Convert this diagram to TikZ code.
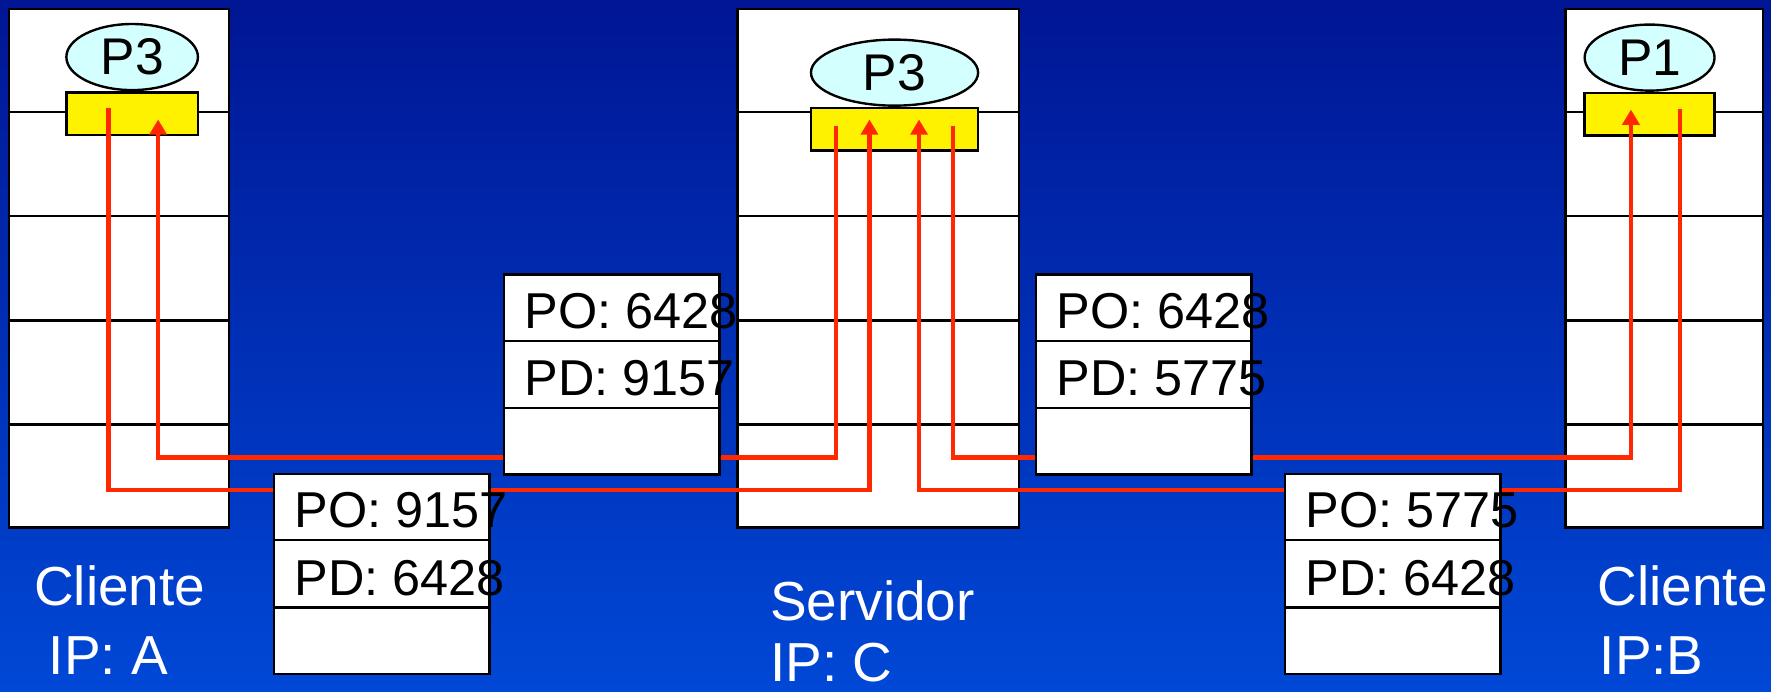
\documentclass[tikz,border=0pt]{standalone}
\usepackage{fontspec}
\setmainfont{Liberation Sans}
\usepackage{tikz}
\usetikzlibrary{calc}
\usetikzlibrary{arrows.meta}
\usetikzlibrary{positioning, shapes.geometric}

\definecolor{bgtop}{RGB}{0,22,148}
\definecolor{bgbot}{RGB}{0,72,214}
\definecolor{flowred}{RGB}{255,40,0}
\definecolor{procfill}{RGB}{212,255,255}

\tikzset{
  host/.style={draw,fill=white,line width=1.2pt,minimum height=9.18cm,inner sep=0pt},
  proc/.style={ellipse,draw,fill=procfill,line width=1.2pt,minimum height=1.17cm,inner sep=0pt,font=\fontsize{26}{30}\selectfont},
  sock/.style={draw,fill=yellow,line width=1.2pt,minimum height=0.75cm,inner sep=0pt},
  pkt/.style={draw,fill=white,line width=1.2pt,minimum width=3.82cm,minimum height=3.54cm,inner sep=0pt},
  pkttxt/.style={anchor=west,inner sep=0pt,xshift=0.38cm,yshift=-0.07cm,font=\fontsize{25.4}{30}\selectfont},
  lbl/.style={anchor=west,inner sep=0pt,text=white,font=\fontsize{27.7}{32}\selectfont},
  flow/.style={flowred,line width=2.1pt},
  tip/.style={-{Triangle[length=0.27cm,width=0.3cm]}}
}

\begin{document}
\begin{tikzpicture}[x=0.02cm,y=-0.02cm]
  \fill[top color=bgtop,bottom color=bgbot] (0,0) rectangle (1568,612);
  \useasboundingbox (0,0) rectangle (1568,612);

  % hosts
  \node[host,minimum width=3.9cm]  (hA) at (105.5,237.5) {};
  \node[host,minimum width=4.98cm] (hC) at (777.5,237.5) {};
  \node[host,minimum width=3.5cm]  (hB) at (1473.5,237.5) {};
  \foreach \h in {hA,hC,hB}
    \foreach \k in {1,2,3,4}
      \draw[line width=1.2pt] ($(\h.north west)!\k/5!(\h.south west)$) -- ($(\h.north east)!\k/5!(\h.south east)$);

  \node[proc,minimum width=2.33cm] (pA) at (117,50.5)   {P3};
  \node[proc,minimum width=2.96cm] (pC) at (792,64.3)   {P3};
  \node[proc,minimum width=2.3cm]  (pB) at (1460.5,51)  {P1};
  \node[sock,minimum width=2.33cm,below=0pt of pA] (sA) {};
  \node[sock,minimum width=2.96cm,below=0pt of pC] (sC) {};
  \node[sock,minimum width=2.3cm,below=0pt of pB]  (sB) {};

  % ports
  \coordinate (aOut) at (96,96);
  \coordinate (aIn)  at (140,105.8);
  \coordinate (cOutA) at (740.4,111.5);
  \coordinate (cInA)  at (769.8,105.8);
  \coordinate (cInB)  at (813.7,105.8);
  \coordinate (cOutB) at (843.6,111.5);
  \coordinate (bIn)  at (1444,97);
  \coordinate (bOut) at (1487.7,96.6);
  \coordinate (up)  at (0,405);
  \coordinate (low) at (0,433.6);

  \draw[flow,tip] (aOut) -- (aOut |- low) -- (cInA |- low) -- (cInA);
  \draw[flow,tip] (cOutA) -- (cOutA |- up) -- (aIn |- up) -- (aIn);
  \draw[flow,tip] (cOutB) -- (cOutB |- up) -- (bIn |- up) -- (bIn);
  \draw[flow,tip] (bOut) -- (bOut |- low) -- (cInB |- low) -- (cInB);

  % segments
  \node[pkt] (p1) at (541.5,331.5) {};
  \node[pkt] (p2) at (338,508)     {};
  \node[pkt] (p3) at (1012.5,331.5) {};
  \node[pkt] (p4) at (1233,508)    {};
  \foreach \p in {p1,p2,p3,p4}
    \foreach \k in {1,2}
      \draw[line width=1.2pt] ($(\p.north west)!\k/3!(\p.south west)$) -- ($(\p.north east)!\k/3!(\p.south east)$);

  \node[pkttxt] (p1po) at ($(p1.north west)!1/6!(p1.south west)$) {PO: 6428};
  \node[pkttxt] (p1pd) at ($(p1.north west)!1/2!(p1.south west)$) {PD: 9157};
  \node[pkttxt] (p2po) at ($(p2.north west)!1/6!(p2.south west)$) {PO: 9157};
  \node[pkttxt] (p2pd) at ($(p2.north west)!1/2!(p2.south west)$) {PD: 6428};
  \node[pkttxt] (p3po) at ($(p3.north west)!1/6!(p3.south west)$) {PO: 6428};
  \node[pkttxt] (p3pd) at ($(p3.north west)!1/2!(p3.south west)$) {PD: 5775};
  \node[pkttxt] (p4po) at ($(p4.north west)!1/6!(p4.south west)$) {PO: 5775};
  \node[pkttxt] (p4pd) at ($(p4.north west)!1/2!(p4.south west)$) {PD: 6428};

  % labels
  \node[lbl] (lA)  at (30,519)    {Cliente};
  \node[lbl] (ipA) at (43,580)    {IP: A};
  \node[lbl] (lC)  at (681.5,532) {Servidor};
  \node[lbl] (ipC) at (681.5,587) {IP: C};
  \node[lbl] (lB)  at (1414,519)  {Cliente};
  \node[lbl] (ipB) at (1416,580)  {IP:B};
\end{tikzpicture}
\end{document}
